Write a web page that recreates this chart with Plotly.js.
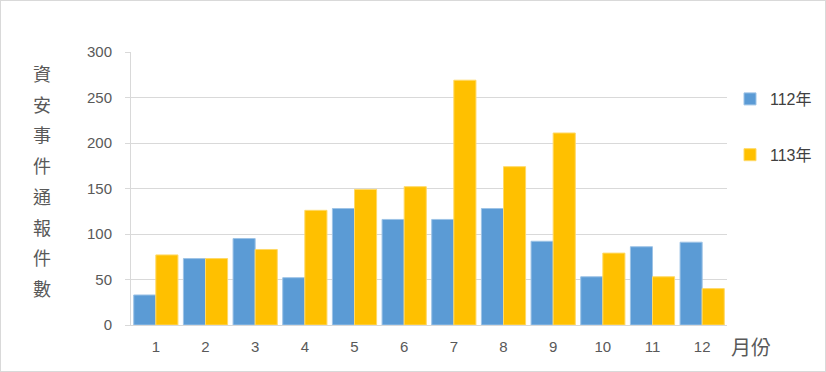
<!DOCTYPE html>
<html><head><meta charset="utf-8">
<script src="https://cdn.plot.ly/plotly-3.0.1.min.js"></script>
<style>
html,body{margin:0;padding:0;background:#fff;}
#wrap{position:relative;width:826px;height:372px;}
#frame{position:absolute;left:0;top:0;width:824px;height:370px;border:1px solid #D9D9D9;pointer-events:none;}
</style></head>
<body>
<div id="wrap"><div id="chart" style="width:826px;height:372px;"></div><div id="frame"></div></div>
<script>
const months = ['1','2','3','4','5','6','7','8','9','10','11','12'];
const series112 = [33, 73, 95, 52, 128, 116, 116, 128, 92, 53, 86, 91];
const series113 = [77, 73, 83, 126, 149, 152, 269, 174, 211, 79, 53, 40];
const seriesNames = ['112年', '113年'];
const yTickVals = [0, 50, 100, 150, 200, 250, 300];
const yTitle = '資安事件通報件數';
const xTitle = '月份';

const W = 826, H = 372;
const M = {l:131, r:99, t:52, b:47, autoexpand:false};
const plotH = H - M.t - M.b;
const plotW = W - M.l - M.r;

const gray = '#595959';
const traces = [
  {type:'bar', x:months, y:series112, name:seriesNames[0], legendgroup:'a',
   marker:{color:'#5B9BD5', line:{color:'#9DC3E6', width:1}}},
  {type:'bar', x:months, y:series113, name:seriesNames[1], legendgroup:'b',
   marker:{color:'#FFC000', line:{color:'#FFD966', width:1}}}
];

const annotations = [];
const chars = Array.from(yTitle);
const topC = 73, botC = 288;
chars.forEach((c,i)=>{
  const py = topC + (botC-topC)*i/(chars.length-1);
  annotations.push({text:c, xref:'paper', yref:'paper', showarrow:false,
    x:(42-M.l)/plotW, y:(H-M.b-py)/plotH, xanchor:'center', yanchor:'middle',
    font:{family:'Noto Sans CJK TC', size:18, color:gray}});
});
annotations.push({text:xTitle, xref:'paper', yref:'paper', showarrow:false,
  x:(751-M.l)/plotW, y:(H-M.b-346)/plotH, xanchor:'center', yanchor:'middle',
  font:{family:'Noto Sans CJK TC', size:20, color:gray}});

const layout = {
  width:W, height:H,
  margin:M,
  paper_bgcolor:'#fff', plot_bgcolor:'#fff',
  barmode:'group', bargap:0.11, bargroupgap:0,
  font:{family:'Liberation Sans, Arial, sans-serif', color:gray},
  xaxis:{type:'category', showgrid:false, showline:true, linecolor:'#D9D9D9', linewidth:1,
    ticks:'', tickfont:{size:15, color:gray}, ticklabelstandoff:8, zeroline:false, automargin:false},
  yaxis:{range:[0,300], tickvals:yTickVals, showgrid:true, gridcolor:'#D9D9D9', gridwidth:1,
    showline:true, linecolor:'#D9D9D9', linewidth:1, ticks:'outside', ticklen:5, tickcolor:'#D9D9D9',
    tickfont:{size:15, color:gray}, ticklabelstandoff:10, zeroline:false, automargin:false},
  showlegend:true,
  legend:{x:(730-M.l)/plotW, xanchor:'left', y:(H-M.b-82)/plotH, yanchor:'top',
    traceorder:'grouped', tracegroupgap:32, font:{family:'Liberation Sans, Noto Sans CJK TC', size:16, color:'#404040'},
    bgcolor:'rgba(0,0,0,0)'},
  annotations:annotations
};
Plotly.newPlot('chart', traces, layout, {displayModeBar:false, staticPlot:true});
</script>
</body></html>
